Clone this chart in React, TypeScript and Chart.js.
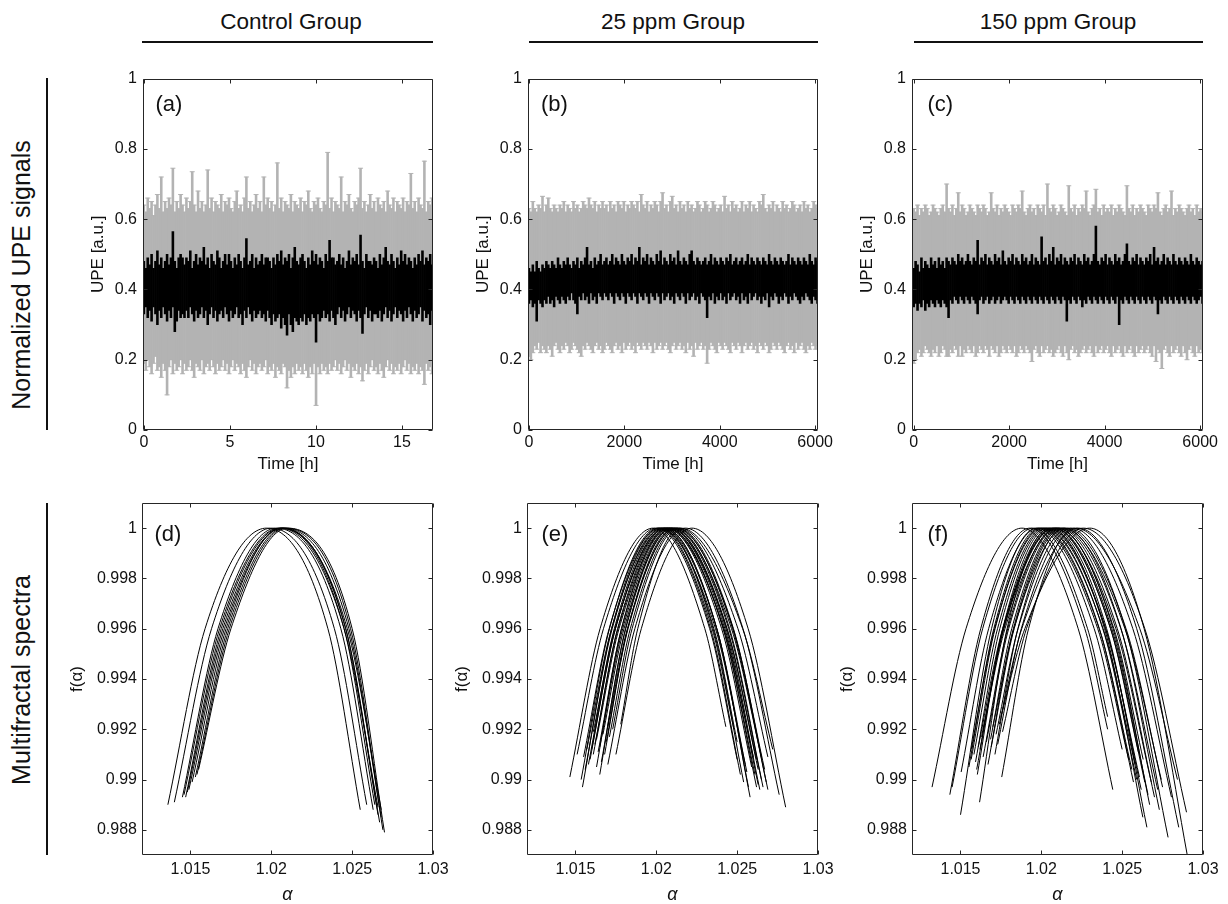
import React, { useEffect, useRef } from "react";
import { Chart, registerables } from "chart.js";

Chart.register(...registerables);

const FONT = '"Liberation Sans", Arial, Helvetica, sans-serif';
Chart.defaults.font.family = FONT;
Chart.defaults.color = "#111";

// ---------------- text ----------------
const groupTitles = ["Control Group", "25 ppm Group", "150 ppm Group"];
const rowTitles = ["Normalized UPE signals", "Multifractal spectra"];
const panelLetters = ["(a)", "(b)", "(c)", "(d)", "(e)", "(f)"];
const upeAxisTitle = "UPE [a.u.]";
const timeAxisTitle = "Time [h]";
const fAxisTitle = "f(\u03b1)";
const alphaAxisTitle = "\u03b1";

// ---------------- ticks ----------------
const upeTicks = [0, 0.2, 0.4, 0.6, 0.8, 1];
const controlTimeTicks = [0, 5, 10, 15];
const ppmTimeTicks = [0, 2000, 4000, 6000];
const alphaTicks = [1.015, 1.02, 1.025, 1.03];
const fAlphaTicks = [0.988, 0.99, 0.992, 0.994, 0.996, 0.998, 1];

// ---------------- UPE signals (min/max per time bin of the signal, and of its error bars) ----------------
const controlDurationH = 16.75;
const ppm25DurationH = 6050;
const ppm150DurationH = 6050;

const controlSignalMax = [
  0.48,0.46,0.49,0.47,0.50,0.46,0.48,0.51,0.47,0.49,
  0.46,0.48,0.50,0.47,0.49,0.565,0.48,0.46,0.49,0.50,
  0.49,0.47,0.49,0.48,0.51,0.46,0.48,0.50,0.47,0.49,
  0.48,0.52,0.47,0.49,0.46,0.50,0.48,0.47,0.51,0.49,
  0.46,0.48,0.50,0.47,0.50,0.48,0.46,0.49,0.47,0.50,
  0.48,0.46,0.49,0.545,0.47,0.48,0.50,0.46,0.49,0.47,
  0.48,0.50,0.47,0.49,0.49,0.48,0.46,0.49,0.47,0.50,
  0.48,0.51,0.47,0.49,0.48,0.50,0.46,0.49,0.52,0.48,
  0.47,0.49,0.50,0.48,0.46,0.49,0.47,0.51,0.48,0.50,
  0.47,0.49,0.48,0.46,0.50,0.48,0.54,0.49,0.49,0.47,
  0.48,0.50,0.47,0.49,0.46,0.48,0.51,0.47,0.49,0.48,
  0.50,0.47,0.555,0.48,0.46,0.50,0.48,0.48,0.47,0.49,
  0.48,0.46,0.50,0.47,0.49,0.52,0.48,0.47,0.50,0.48,
  0.46,0.49,0.47,0.51,0.48,0.50,0.47,0.49,0.48,0.46,
  0.49,0.47,0.50,0.48,0.51,0.47,0.49,0.48,0.50,0.47,
];
const controlSignalMin = [
  0.33,0.35,0.32,0.34,0.31,0.35,0.33,0.30,0.34,0.32,
  0.35,0.33,0.31,0.34,0.32,0.35,0.28,0.31,0.34,0.32,
  0.33,0.32,0.34,0.32,0.35,0.33,0.31,0.34,0.32,0.33,
  0.35,0.32,0.34,0.30,0.33,0.35,0.32,0.34,0.31,0.33,
  0.34,0.32,0.35,0.33,0.31,0.34,0.32,0.33,0.35,0.32,
  0.33,0.30,0.34,0.32,0.35,0.33,0.31,0.34,0.32,0.33,
  0.34,0.32,0.33,0.31,0.34,0.32,0.30,0.33,0.31,0.32,
  0.33,0.29,0.32,0.30,0.27,0.33,0.30,0.28,0.32,0.31,
  0.30,0.32,0.31,0.33,0.30,0.32,0.31,0.33,0.32,0.25,
  0.33,0.31,0.32,0.34,0.32,0.33,0.31,0.34,0.32,0.30,
  0.33,0.35,0.32,0.34,0.31,0.33,0.35,0.32,0.34,0.33,
  0.31,0.34,0.32,0.275,0.33,0.35,0.32,0.34,0.31,0.33,
  0.33,0.32,0.34,0.31,0.33,0.35,0.32,0.34,0.31,0.33,
  0.35,0.32,0.34,0.33,0.31,0.34,0.32,0.35,0.33,0.31,
  0.34,0.32,0.33,0.35,0.31,0.34,0.32,0.33,0.30,0.34,
];
const controlErrorMax = [
  0.64,0.62,0.66,0.63,0.65,0.61,0.64,0.67,0.63,0.72,
  0.62,0.65,0.63,0.66,0.64,0.745,0.62,0.65,0.63,0.67,
  0.64,0.62,0.66,0.63,0.65,0.735,0.64,0.62,0.68,0.63,
  0.65,0.62,0.64,0.74,0.63,0.66,0.62,0.65,0.64,0.63,
  0.67,0.62,0.65,0.64,0.66,0.63,0.62,0.65,0.68,0.63,
  0.64,0.62,0.66,0.72,0.63,0.65,0.62,0.64,0.67,0.63,
  0.65,0.62,0.72,0.64,0.66,0.63,0.65,0.62,0.64,0.76,
  0.63,0.66,0.62,0.65,0.64,0.63,0.67,0.62,0.65,0.64,
  0.63,0.66,0.62,0.65,0.64,0.68,0.63,0.62,0.65,0.64,
  0.66,0.63,0.62,0.65,0.64,0.79,0.63,0.66,0.62,0.65,
  0.64,0.63,0.72,0.62,0.65,0.64,0.67,0.63,0.62,0.65,
  0.64,0.66,0.745,0.63,0.65,0.62,0.64,0.67,0.63,0.65,
  0.62,0.66,0.64,0.63,0.65,0.62,0.68,0.64,0.63,0.66,
  0.62,0.65,0.64,0.63,0.66,0.62,0.65,0.64,0.73,0.63,
  0.65,0.62,0.66,0.64,0.63,0.765,0.62,0.65,0.64,0.66,
];
const controlErrorMin = [
  0.19,0.17,0.20,0.18,0.16,0.19,0.21,0.17,0.18,0.15,
  0.19,0.17,0.10,0.18,0.20,0.16,0.19,0.17,0.18,0.20,
  0.16,0.19,0.17,0.18,0.20,0.17,0.15,0.19,0.18,0.17,
  0.20,0.16,0.18,0.19,0.17,0.20,0.18,0.16,0.19,0.17,
  0.18,0.20,0.17,0.19,0.16,0.18,0.20,0.17,0.19,0.18,
  0.16,0.19,0.17,0.15,0.18,0.20,0.17,0.19,0.16,0.18,
  0.19,0.17,0.18,0.20,0.16,0.18,0.17,0.19,0.15,0.18,
  0.17,0.16,0.19,0.18,0.12,0.17,0.15,0.18,0.16,0.19,
  0.17,0.18,0.16,0.19,0.17,0.15,0.18,0.16,0.19,0.07,
  0.18,0.16,0.19,0.17,0.18,0.16,0.19,0.17,0.18,0.20,
  0.17,0.19,0.16,0.18,0.20,0.17,0.19,0.15,0.18,0.17,
  0.19,0.16,0.18,0.14,0.17,0.19,0.16,0.18,0.20,0.17,
  0.18,0.16,0.19,0.17,0.15,0.18,0.20,0.17,0.19,0.16,
  0.18,0.17,0.19,0.16,0.18,0.20,0.17,0.19,0.16,0.18,
  0.17,0.19,0.16,0.18,0.17,0.13,0.19,0.17,0.18,0.16,
];

const ppm25SignalMax = [
  0.46,0.45,0.47,0.45,0.48,0.46,0.45,0.47,0.46,0.48,
  0.47,0.46,0.48,0.47,0.46,0.49,0.47,0.46,0.48,0.47,
  0.49,0.47,0.46,0.48,0.47,0.49,0.46,0.48,0.47,0.49,
  0.52,0.47,0.48,0.46,0.49,0.47,0.48,0.50,0.47,0.48,
  0.49,0.47,0.48,0.50,0.47,0.49,0.48,0.47,0.50,0.48,
  0.47,0.49,0.48,0.50,0.47,0.49,0.48,0.52,0.47,0.49,
  0.48,0.50,0.47,0.49,0.48,0.47,0.50,0.48,0.51,0.47,
  0.49,0.48,0.47,0.50,0.48,0.49,0.47,0.51,0.48,0.47,
  0.49,0.48,0.47,0.50,0.51,0.48,0.47,0.49,0.48,0.47,
  0.48,0.49,0.47,0.48,0.50,0.47,0.49,0.48,0.47,0.49,
  0.48,0.47,0.49,0.48,0.50,0.47,0.48,0.49,0.47,0.48,
  0.49,0.47,0.48,0.50,0.47,0.49,0.48,0.47,0.49,0.48,
  0.47,0.49,0.48,0.47,0.50,0.48,0.47,0.49,0.48,0.47,
  0.49,0.48,0.47,0.48,0.50,0.47,0.49,0.48,0.47,0.49,
  0.48,0.47,0.49,0.48,0.47,0.50,0.48,0.47,0.49,0.48,
];
const ppm25SignalMin = [
  0.36,0.37,0.35,0.36,0.31,0.37,0.36,0.35,0.37,0.36,
  0.38,0.36,0.37,0.35,0.38,0.37,0.36,0.38,0.37,0.36,
  0.38,0.37,0.39,0.37,0.36,0.33,0.38,0.37,0.39,0.37,
  0.38,0.36,0.39,0.37,0.38,0.36,0.39,0.38,0.37,0.39,
  0.38,0.37,0.39,0.38,0.36,0.39,0.38,0.37,0.39,0.38,
  0.36,0.39,0.38,0.37,0.39,0.38,0.36,0.39,0.38,0.37,
  0.39,0.38,0.36,0.39,0.38,0.37,0.39,0.38,0.36,0.39,
  0.37,0.38,0.39,0.37,0.38,0.36,0.39,0.38,0.37,0.39,
  0.38,0.36,0.39,0.37,0.38,0.39,0.37,0.38,0.36,0.39,
  0.38,0.37,0.32,0.38,0.37,0.39,0.36,0.38,0.37,0.39,
  0.37,0.38,0.36,0.39,0.37,0.38,0.39,0.37,0.38,0.36,
  0.39,0.37,0.38,0.36,0.39,0.37,0.38,0.39,0.37,0.38,
  0.36,0.38,0.37,0.39,0.35,0.38,0.37,0.39,0.38,0.36,
  0.38,0.37,0.39,0.38,0.36,0.38,0.37,0.39,0.38,0.37,
  0.36,0.38,0.37,0.39,0.38,0.37,0.36,0.38,0.37,0.36,
];
const ppm25ErrorMax = [
  0.63,0.62,0.65,0.63,0.62,0.64,0.63,0.665,0.62,0.64,
  0.66,0.63,0.62,0.64,0.63,0.62,0.64,0.63,0.65,0.62,
  0.64,0.63,0.62,0.65,0.63,0.64,0.62,0.63,0.65,0.64,
  0.63,0.66,0.64,0.63,0.65,0.62,0.64,0.63,0.65,0.63,
  0.64,0.62,0.65,0.63,0.64,0.62,0.65,0.64,0.63,0.65,
  0.62,0.64,0.63,0.65,0.64,0.63,0.65,0.62,0.67,0.64,
  0.63,0.65,0.62,0.64,0.63,0.65,0.64,0.62,0.65,0.675,
  0.63,0.64,0.62,0.65,0.665,0.63,0.64,0.62,0.65,0.63,
  0.64,0.62,0.65,0.63,0.64,0.62,0.63,0.65,0.64,0.62,
  0.63,0.65,0.64,0.62,0.63,0.65,0.64,0.62,0.63,0.64,
  0.62,0.665,0.63,0.64,0.62,0.65,0.63,0.64,0.62,0.63,
  0.65,0.62,0.64,0.63,0.65,0.62,0.64,0.63,0.62,0.65,
  0.64,0.67,0.63,0.62,0.64,0.63,0.65,0.62,0.64,0.63,
  0.62,0.65,0.63,0.64,0.62,0.63,0.65,0.64,0.62,0.63,
  0.64,0.62,0.65,0.63,0.64,0.62,0.63,0.65,0.64,0.63,
];
const ppm25ErrorMin = [
  0.21,0.20,0.22,0.24,0.23,0.25,0.22,0.24,0.23,0.22,
  0.24,0.23,0.21,0.24,0.25,0.23,0.22,0.24,0.23,0.25,
  0.24,0.22,0.23,0.25,0.24,0.23,0.22,0.21,0.24,0.23,
  0.25,0.24,0.23,0.22,0.24,0.25,0.23,0.24,0.22,0.23,
  0.25,0.24,0.23,0.22,0.24,0.25,0.23,0.24,0.22,0.25,
  0.23,0.24,0.25,0.23,0.24,0.22,0.25,0.24,0.23,0.25,
  0.24,0.23,0.25,0.24,0.22,0.25,0.23,0.24,0.25,0.23,
  0.24,0.25,0.23,0.22,0.24,0.25,0.23,0.24,0.25,0.23,
  0.24,0.22,0.25,0.23,0.24,0.21,0.25,0.23,0.24,0.25,
  0.23,0.24,0.19,0.23,0.25,0.24,0.23,0.22,0.25,0.24,
  0.23,0.25,0.24,0.23,0.22,0.25,0.24,0.23,0.25,0.24,
  0.22,0.24,0.25,0.23,0.24,0.25,0.23,0.24,0.22,0.25,
  0.24,0.23,0.25,0.24,0.22,0.23,0.25,0.24,0.23,0.25,
  0.24,0.23,0.22,0.24,0.25,0.23,0.24,0.22,0.25,0.23,
  0.24,0.25,0.23,0.22,0.24,0.23,0.25,0.24,0.23,0.24,
];

const ppm150SignalMax = [
  0.46,0.48,0.47,0.45,0.49,0.46,0.48,0.47,0.46,0.49,
  0.47,0.48,0.46,0.49,0.47,0.48,0.46,0.49,0.48,0.47,
  0.49,0.48,0.47,0.50,0.48,0.49,0.47,0.48,0.50,0.48,
  0.47,0.49,0.48,0.54,0.47,0.49,0.48,0.50,0.47,0.49,
  0.48,0.47,0.50,0.48,0.49,0.47,0.51,0.48,0.47,0.49,
  0.48,0.50,0.47,0.49,0.48,0.47,0.50,0.48,0.49,0.47,
  0.48,0.50,0.47,0.49,0.48,0.47,0.55,0.48,0.49,0.47,
  0.50,0.48,0.52,0.47,0.49,0.48,0.50,0.47,0.49,0.48,
  0.47,0.49,0.48,0.50,0.47,0.49,0.48,0.47,0.50,0.48,
  0.49,0.47,0.48,0.50,0.58,0.48,0.47,0.49,0.48,0.50,
  0.47,0.49,0.48,0.47,0.50,0.48,0.49,0.47,0.48,0.50,
  0.53,0.48,0.47,0.49,0.48,0.50,0.47,0.49,0.48,0.47,
  0.49,0.48,0.50,0.47,0.52,0.48,0.49,0.47,0.48,0.50,
  0.47,0.49,0.48,0.47,0.50,0.48,0.47,0.49,0.48,0.47,
  0.49,0.48,0.47,0.50,0.48,0.47,0.49,0.48,0.47,0.48,
];
const ppm150SignalMin = [
  0.35,0.36,0.34,0.36,0.35,0.37,0.34,0.36,0.35,0.37,
  0.36,0.35,0.37,0.36,0.35,0.37,0.36,0.35,0.32,0.37,
  0.36,0.38,0.37,0.36,0.38,0.37,0.36,0.38,0.37,0.36,
  0.38,0.37,0.36,0.33,0.37,0.38,0.36,0.37,0.38,0.36,
  0.37,0.38,0.36,0.37,0.38,0.36,0.37,0.38,0.37,0.36,
  0.38,0.37,0.36,0.38,0.37,0.36,0.38,0.37,0.36,0.38,
  0.37,0.36,0.38,0.37,0.36,0.38,0.37,0.36,0.38,0.37,
  0.36,0.38,0.37,0.36,0.38,0.37,0.36,0.38,0.37,0.31,
  0.37,0.36,0.38,0.37,0.36,0.38,0.37,0.35,0.37,0.36,
  0.38,0.37,0.36,0.38,0.37,0.36,0.38,0.37,0.36,0.38,
  0.37,0.36,0.38,0.37,0.36,0.38,0.30,0.37,0.36,0.38,
  0.37,0.36,0.38,0.37,0.36,0.38,0.37,0.36,0.38,0.37,
  0.36,0.38,0.37,0.36,0.38,0.37,0.33,0.37,0.36,0.38,
  0.37,0.36,0.38,0.37,0.36,0.38,0.37,0.36,0.38,0.37,
  0.36,0.38,0.37,0.36,0.38,0.37,0.36,0.37,0.38,0.36,
];
const ppm150ErrorMax = [
  0.63,0.62,0.64,0.61,0.63,0.62,0.64,0.63,0.61,0.62,
  0.64,0.63,0.62,0.61,0.63,0.64,0.62,0.70,0.63,0.62,
  0.64,0.61,0.63,0.675,0.62,0.64,0.63,0.61,0.62,0.64,
  0.63,0.62,0.61,0.64,0.63,0.62,0.64,0.63,0.61,0.62,
  0.675,0.63,0.62,0.64,0.61,0.63,0.62,0.64,0.63,0.62,
  0.61,0.64,0.63,0.62,0.64,0.63,0.68,0.62,0.61,0.63,
  0.64,0.62,0.63,0.61,0.64,0.63,0.62,0.64,0.61,0.70,
  0.63,0.62,0.64,0.63,0.61,0.62,0.64,0.63,0.62,0.61,
  0.695,0.63,0.62,0.64,0.61,0.63,0.62,0.64,0.63,0.68,
  0.62,0.61,0.63,0.64,0.685,0.62,0.63,0.61,0.64,0.62,
  0.63,0.62,0.64,0.61,0.63,0.62,0.64,0.63,0.62,0.61,
  0.695,0.63,0.62,0.64,0.61,0.63,0.62,0.64,0.63,0.62,
  0.61,0.64,0.63,0.62,0.64,0.63,0.675,0.62,0.61,0.63,
  0.64,0.62,0.63,0.68,0.61,0.63,0.62,0.64,0.63,0.62,
  0.61,0.63,0.64,0.62,0.63,0.61,0.64,0.62,0.63,0.62,
];
const ppm150ErrorMin = [
  0.19,0.20,0.22,0.23,0.21,0.22,0.24,0.23,0.22,0.21,
  0.23,0.22,0.24,0.21,0.22,0.24,0.23,0.21,0.21,0.23,
  0.22,0.24,0.23,0.21,0.24,0.21,0.23,0.22,0.24,0.23,
  0.22,0.24,0.21,0.22,0.24,0.23,0.22,0.24,0.23,0.21,
  0.24,0.23,0.22,0.24,0.21,0.22,0.24,0.23,0.22,0.24,
  0.23,0.22,0.24,0.21,0.22,0.24,0.23,0.22,0.24,0.23,
  0.22,0.195,0.23,0.24,0.22,0.21,0.24,0.22,0.23,0.24,
  0.22,0.23,0.21,0.22,0.23,0.24,0.22,0.21,0.24,0.22,
  0.20,0.23,0.24,0.22,0.23,0.21,0.22,0.23,0.24,0.22,
  0.23,0.24,0.22,0.21,0.24,0.22,0.23,0.24,0.22,0.23,
  0.24,0.22,0.21,0.24,0.22,0.23,0.24,0.22,0.21,0.24,
  0.22,0.23,0.24,0.22,0.21,0.24,0.22,0.23,0.24,0.22,
  0.23,0.24,0.22,0.21,0.24,0.195,0.23,0.22,0.175,0.23,
  0.24,0.22,0.21,0.24,0.22,0.23,0.24,0.22,0.21,0.24,
  0.22,0.20,0.23,0.24,0.22,0.21,0.24,0.22,0.23,0.22,
];

// ---------------- multifractal spectra ----------------
// each curve: [alphaLeftEnd, fLeftEnd, alphaLeftAtMid, alphaPeak, alphaRightAtMid, alphaRightEnd, fRightEnd]
const spectrumMidLevel = 0.996;
const spectrumPeak = 1;

const spectraControl = [
  [1.0136, 0.9890, 1.0159, 1.0197, 1.0235, 1.0255, 0.9888],
  [1.0140, 0.9891, 1.0163, 1.0200, 1.0239, 1.0259, 0.9890],
  [1.0145, 0.9893, 1.0167, 1.0203, 1.0243, 1.0263, 0.9888],
  [1.0146, 0.9894, 1.0168, 1.0205, 1.0245, 1.0266, 0.9889],
  [1.0147, 0.9893, 1.0169, 1.0206, 1.0246, 1.0267, 0.9883],
  [1.0148, 0.9895, 1.0170, 1.0207, 1.0247, 1.0268, 0.9888],
  [1.0153, 0.9901, 1.0173, 1.0208, 1.0248, 1.0268, 0.9885],
  [1.0154, 0.9902, 1.0174, 1.0209, 1.0249, 1.0269, 0.9880],
  [1.0155, 0.9904, 1.0175, 1.0210, 1.0250, 1.0270, 0.9879],
  [1.0149, 0.9896, 1.0171, 1.0207, 1.0246, 1.0266, 0.9886],
  [1.0151, 0.9899, 1.0172, 1.0206, 1.0245, 1.0264, 0.9890],
];

const spectra25ppm = [
  [1.01465, 0.9901, 1.01652, 1.0198, 1.0230, 1.0243, 0.9921],
  [1.0151, 0.9910, 1.01673, 1.0200, 1.0233, 1.0250, 0.9908],
  [1.01535, 0.9900, 1.0171, 1.0201, 1.02336, 1.0252, 0.9902],
  [1.01543, 0.9897, 1.01723, 1.0202, 1.02366, 1.0255, 0.9906],
  [1.0156, 0.9904, 1.01727, 1.0203, 1.02351, 1.0254, 0.9899],
  [1.0158, 0.9906, 1.0174, 1.0204, 1.02374, 1.0256, 0.9903],
  [1.0159, 0.9908, 1.01747, 1.0205, 1.02374, 1.0257, 0.9897],
  [1.0160, 0.9912, 1.01747, 1.0205, 1.02374, 1.0258, 0.9893],
  [1.0161, 0.9910, 1.0176, 1.0206, 1.02404, 1.0259, 0.9905],
  [1.0161, 0.9919, 1.01744, 1.0206, 1.02418, 1.0260, 0.9909],
  [1.0162, 0.9914, 1.01763, 1.0207, 1.02415, 1.0261, 0.9902],
  [1.0163, 0.9905, 1.01784, 1.0207, 1.02413, 1.0262, 0.9897],
  [1.0163, 0.9916, 1.01769, 1.0208, 1.02436, 1.0262, 0.9908],
  [1.0164, 0.9911, 1.01785, 1.0208, 1.02424, 1.0263, 0.9898],
  [1.0165, 0.9902, 1.01809, 1.0209, 1.02438, 1.0263, 0.9904],
  [1.0165, 0.9913, 1.01792, 1.0209, 1.02431, 1.0264, 0.9896],
  [1.0166, 0.9907, 1.01811, 1.0210, 1.02448, 1.0265, 0.9900],
  [1.0167, 0.9918, 1.0180, 1.0210, 1.02465, 1.0265, 0.9909],
  [1.0168, 0.9910, 1.01823, 1.0211, 1.02453, 1.0266, 0.9897],
  [1.0169, 0.9915, 1.01825, 1.0212, 1.02475, 1.0267, 0.9904],
  [1.0170, 0.9921, 1.01821, 1.0212, 1.02472, 1.0268, 0.9899],
  [1.0171, 0.9917, 1.01839, 1.0213, 1.02477, 1.0269, 0.9896],
  [1.0173, 0.9920, 1.0185, 1.0214, 1.02505, 1.0269, 0.9909],
  [1.0178, 0.9922, 1.01885, 1.0215, 1.02534, 1.0272, 0.9912],
  [1.0170, 0.9906, 1.01867, 1.0218, 1.02536, 1.0276, 0.9894],
  [1.0175, 0.9910, 1.01907, 1.0222, 1.02568, 1.0280, 0.9889],
  [1.0157, 0.9912, 1.01723, 1.0204, 1.02356, 1.0250, 0.9915],
  [1.0155, 0.9909, 1.01708, 1.0202, 1.02345, 1.0248, 0.9920],
];

const spectra150ppm = [
  [1.01324, 0.9897, 1.01534, 1.0188, 1.02228, 1.02442, 0.9896],
  [1.01434, 0.9894, 1.01625, 1.0193, 1.02269, 1.0241, 0.9920],
  [1.01448, 0.9897, 1.01637, 1.0195, 1.02286, 1.0241, 0.9925],
  [1.0150, 0.9886, 1.01692, 1.0197, 1.02327, 1.0250, 0.9912],
  [1.01504, 0.9903, 1.01674, 1.0198, 1.02349, 1.0254, 0.9908],
  [1.01552, 0.9905, 1.01706, 1.0199, 1.02358, 1.0256, 0.9904],
  [1.01566, 0.9908, 1.01714, 1.0200, 1.02359, 1.0257, 0.9899],
  [1.01566, 0.9912, 1.01711, 1.0201, 1.02382, 1.0258, 0.9906],
  [1.01583, 0.9910, 1.01729, 1.0202, 1.0238, 1.0259, 0.9900],
  [1.01593, 0.9907, 1.01743, 1.0203, 1.02397, 1.02607, 0.9901],
  [1.01604, 0.9902, 1.01761, 1.0204, 1.02398, 1.02618, 0.9896],
  [1.01618, 0.9891, 1.01788, 1.0205, 1.02391, 1.02628, 0.9885],
  [1.0160, 0.9904, 1.01763, 1.0206, 1.02404, 1.02653, 0.9881],
  [1.0162, 0.9912, 1.01767, 1.0207, 1.02429, 1.0264, 0.9899],
  [1.0163, 0.9917, 1.01768, 1.0208, 1.02436, 1.0266, 0.9894],
  [1.0164, 0.9909, 1.01792, 1.0209, 1.02461, 1.0268, 0.9899],
  [1.0166, 0.9915, 1.01798, 1.0210, 1.02444, 1.0267, 0.9890],
  [1.01686, 0.9916, 1.01817, 1.0211, 1.0247, 1.0270, 0.9893],
  [1.0167, 0.9906, 1.01827, 1.0212, 1.02492, 1.0272, 0.9896],
  [1.0169, 0.9913, 1.01832, 1.0213, 1.02517, 1.02742, 0.9900],
  [1.01713, 0.9910, 1.01855, 1.0214, 1.02493, 1.0273, 0.9888],
  [1.0170, 0.9921, 1.0183, 1.0215, 1.02524, 1.0275, 0.9897],
  [1.0172, 0.9918, 1.01856, 1.0217, 1.0252, 1.02784, 0.9877],
  [1.0173, 0.9914, 1.01876, 1.0219, 1.02566, 1.02805, 0.9893],
  [1.01755, 0.9901, 1.01921, 1.0221, 1.02609, 1.02842, 0.9900],
  [1.0174, 0.9922, 1.01879, 1.0223, 1.0259, 1.0285, 0.9881],
  [1.0176, 0.9919, 1.01908, 1.0226, 1.0264, 1.02898, 0.9887],
  [1.0175, 0.9925, 1.01898, 1.0230, 1.02636, 1.0292, 0.9864],
  [1.0164, 0.9920, 1.01775, 1.0210, 1.02449, 1.0263, 0.9908],
  [1.0161, 0.9913, 1.01761, 1.0208, 1.02428, 1.0260, 0.9911],
];

// ---------------- layout (pixel frames of each axes box) ----------------
type Geo = { L: number; T: number; R: number; B: number };
const topGeos: Geo[] = [
  { L: 143, T: 78, R: 432, B: 429 },
  { L: 528, T: 78, R: 817, B: 429 },
  { L: 912, T: 78, R: 1202, B: 429 },
];
const bottomGeos: Geo[] = [
  { L: 142, T: 503, R: 432, B: 854 },
  { L: 527, T: 503, R: 817, B: 854 },
  { L: 912, T: 503, R: 1202, B: 854 },
];
const PAD_T = 15;
const PAD_R = 24;
const GREY = "#b3b3b3";
const TOP_YW = 55, TOP_XH = 45, BOT_YW = 75, BOT_XH = 51;

const fmtTick = (v: any) => String(parseFloat(Number(v).toFixed(4)));

const framePlugin = {
  id: "matlabFrame",
  afterDatasetsDraw(chart: any) {
    const { ctx, chartArea } = chart;
    const xs = chart.scales.x;
    const ys = chart.scales.y;
    const l = Math.round(chartArea.left) + 0.5;
    const r = Math.round(chartArea.right) - 0.5;
    const t = Math.round(chartArea.top) + 0.5;
    const b = Math.round(chartArea.bottom) - 0.5;
    const tl = 4;
    ctx.save();
    ctx.strokeStyle = "#262626";
    ctx.lineWidth = 1;
    ctx.beginPath();
    ctx.rect(l, t, r - l, b - t);
    xs.ticks.forEach((tk: any) => {
      const p = Math.round(xs.getPixelForValue(tk.value)) + 0.5;
      ctx.moveTo(p, b);
      ctx.lineTo(p, b - tl);
      ctx.moveTo(p, t);
      ctx.lineTo(p, t + tl);
    });
    ys.ticks.forEach((tk: any) => {
      const p = Math.round(ys.getPixelForValue(tk.value)) + 0.5;
      ctx.moveTo(l, p);
      ctx.lineTo(l + tl, p);
      ctx.moveTo(r, p);
      ctx.lineTo(r - tl, p);
    });
    ctx.stroke();
    ctx.restore();
  },
};

function makeScales(opts: {
  xMin: number; xMax: number; xTicks: number[]; xTitle: string; xTitleFont: any; xH: number; xPad: number;
  yMin: number; yMax: number; yTicks: number[]; yTitle: string; yW: number; yPad: number;
}) {
  return {
    x: {
      type: "linear",
      bounds: "data",
      offset: false,
      min: opts.xMin,
      max: opts.xMax,
      grid: { display: false, drawTicks: false, offset: false },
      border: { display: false },
      afterBuildTicks: (s: any) => { s.ticks = opts.xTicks.map((v) => ({ value: v })); },
      afterFit: (s: any) => { s.height = opts.xH; },
      ticks: { padding: opts.xPad, font: { size: 16 }, color: "#111", maxRotation: 0, autoSkip: false, callback: fmtTick },
      title: { display: true, text: opts.xTitle, font: opts.xTitleFont, color: "#111", padding: { top: 0, bottom: 0 } },
    },
    y: {
      type: "linear",
      bounds: "data",
      min: opts.yMin,
      max: opts.yMax,
      grid: { display: false, drawTicks: false },
      border: { display: false },
      afterBuildTicks: (s: any) => { s.ticks = opts.yTicks.map((v) => ({ value: v })); },
      afterFit: (s: any) => { s.width = opts.yW; },
      ticks: { padding: opts.yPad, font: { size: 16 }, color: "#111", autoSkip: false, callback: fmtTick },
      title: { display: true, text: opts.yTitle, font: { size: 17 }, color: "#111", padding: { top: 0, bottom: 0 } },
    },
  };
}

const baseOptions = {
  responsive: false,
  maintainAspectRatio: false,
  animation: false,
  events: [],
  layout: { padding: { top: PAD_T, right: PAD_R, left: 0, bottom: 0 } },
  plugins: { legend: { display: false }, tooltip: { enabled: false } },
};

function signalConfig(
  sigMax: number[], sigMin: number[], errMax: number[], errMin: number[],
  duration: number, xMin: number, xMax: number, xTicks: number[],
) {
  const n = Math.min(sigMax.length, sigMin.length, errMax.length, errMin.length);
  const step = duration / (n - 1);
  const times = Array.from({ length: n }, (_, i) => i * step);
  const capStyle = {
    type: "line",
    showLine: false,
    pointStyle: "line",
    pointRadius: 2.5,
    pointBorderWidth: 1,
    pointBorderColor: GREY,
    pointBackgroundColor: GREY,
    order: 1,
  };
  return {
    type: "line",
    data: {
      datasets: [
        {
          type: "bar",
          data: times.map((t, i) => ({ x: t, y: [sigMin[i], sigMax[i]] })),
          backgroundColor: "#000",
          borderWidth: 0,
          barPercentage: 1,
          categoryPercentage: 1,
          grouped: false,
          order: 0,
        },
        { ...capStyle, data: times.map((t, i) => ({ x: t, y: errMax[i] })) },
        { ...capStyle, data: times.map((t, i) => ({ x: t, y: errMin[i] })) },
        {
          type: "bar",
          data: times.map((t, i) => ({ x: t, y: [errMin[i], errMax[i]] })),
          backgroundColor: GREY,
          borderWidth: 0,
          barPercentage: 1,
          categoryPercentage: 1,
          grouped: false,
          order: 2,
        },
      ],
    },
    options: {
      ...baseOptions,
      scales: makeScales({
        xMin, xMax, xTicks, xTitle: timeAxisTitle, xTitleFont: { size: 17 }, xH: TOP_XH, xPad: 3,
        yMin: 0, yMax: 1, yTicks: upeTicks, yTitle: upeAxisTitle, yW: TOP_YW, yPad: 6,
      }),
    },
    plugins: [framePlugin],
  };
}

function spectrumPoints(c: number[]) {
  const [aL, fL, aML, a0, aMR, aR, fR] = c;
  return [
    { x: aL, y: fL },
    { x: aML, y: spectrumMidLevel },
    { x: a0, y: spectrumPeak },
    { x: aMR, y: spectrumMidLevel },
    { x: aR, y: fR },
  ];
}

function spectraConfig(curves: number[][]) {
  return {
    type: "line",
    data: {
      datasets: curves.map((c) => ({
        data: spectrumPoints(c),
        borderColor: "#000",
        borderWidth: 1,
        pointRadius: 0,
        fill: false,
        cubicInterpolationMode: "monotone",
      })),
    },
    options: {
      ...baseOptions,
      scales: makeScales({
        xMin: 1.012, xMax: 1.03, xTicks: alphaTicks, xTitle: alphaAxisTitle,
        xTitleFont: { size: 18, style: "italic" }, xH: BOT_XH, xPad: 5,
        yMin: 0.987, yMax: 1.001, yTicks: fAlphaTicks, yTitle: fAxisTitle, yW: BOT_YW, yPad: 5,
      }),
    },
    plugins: [framePlugin],
  };
}

function ChartCanvas({ geo, yW, xH, build }: { geo: Geo; yW: number; xH: number; build: () => any }) {
  const ref = useRef<HTMLCanvasElement | null>(null);
  const w = yW + (geo.R - geo.L + 1) + PAD_R;
  const h = PAD_T + (geo.B - geo.T + 1) + xH;
  useEffect(() => {
    if (!ref.current) return;
    const chart = new Chart(ref.current, build());
    return () => chart.destroy();
  }, []);
  return (
    <canvas
      ref={ref}
      width={w}
      height={h}
      style={{ position: "absolute", left: geo.L - yW, top: geo.T - PAD_T, width: w, height: h }}
    />
  );
}

const headerCenters = [291, 673, 1058];
const headerLines = [[142, 432], [529, 817], [914, 1202]];
const rowCenters = [275, 680];
const rowLines = [[78, 430], [503, 855]];
const letterPos = [
  [155.5, 92.5], [541, 92.5], [927.5, 92.5],
  [154.5, 522.5], [541.5, 522.5], [927.5, 522.5],
];

export default function App() {
  const topCfgs = [
    () => signalConfig(controlSignalMax, controlSignalMin, controlErrorMax, controlErrorMin, controlDurationH, -0.05, 16.8, controlTimeTicks),
    () => signalConfig(ppm25SignalMax, ppm25SignalMin, ppm25ErrorMax, ppm25ErrorMin, ppm25DurationH, -20, 6060, ppmTimeTicks),
    () => signalConfig(ppm150SignalMax, ppm150SignalMin, ppm150ErrorMax, ppm150ErrorMin, ppm150DurationH, -35, 6060, ppmTimeTicks),
  ];
  const botCfgs = [
    () => spectraConfig(spectraControl),
    () => spectraConfig(spectra25ppm),
    () => spectraConfig(spectra150ppm),
  ];
  return (
    <div
      style={{
        position: "fixed", left: 0, top: 0, width: 1228, height: 904,
        background: "#fff", overflow: "hidden", fontFamily: FONT, color: "#111",
      }}
    >
      {groupTitles.map((g, i) => (
        <div
          key={"h" + i}
          style={{
            position: "absolute", left: headerCenters[i], top: 11, transform: "translateX(-50%)",
            fontSize: 22.5, lineHeight: "21px", whiteSpace: "nowrap",
          }}
        >
          {g}
        </div>
      ))}
      {headerLines.map(([a, b], i) => (
        <div key={"hl" + i} style={{ position: "absolute", left: a, top: 41, width: b - a + 1, height: 2, background: "#111" }} />
      ))}
      {rowTitles.map((r, i) => (
        <div
          key={"r" + i}
          style={{
            position: "absolute", left: 21, top: rowCenters[i],
            transform: "translate(-50%, -50%) rotate(-90deg)",
            fontSize: 25, lineHeight: "25px", whiteSpace: "nowrap",
          }}
        >
          {r}
        </div>
      ))}
      {rowLines.map(([a, b], i) => (
        <div key={"rl" + i} style={{ position: "absolute", left: 46, top: a, width: 2, height: b - a, background: "#111" }} />
      ))}
      {topGeos.map((g, i) => (
        <ChartCanvas key={"t" + i} geo={g} yW={TOP_YW} xH={TOP_XH} build={topCfgs[i]} />
      ))}
      {bottomGeos.map((g, i) => (
        <ChartCanvas key={"b" + i} geo={g} yW={BOT_YW} xH={BOT_XH} build={botCfgs[i]} />
      ))}
      {panelLetters.map((p, i) => (
        <div
          key={"p" + i}
          style={{
            position: "absolute", left: letterPos[i][0], top: letterPos[i][1],
            fontSize: 22, lineHeight: "21px", whiteSpace: "nowrap",
          }}
        >
          {p}
        </div>
      ))}
    </div>
  );
}
